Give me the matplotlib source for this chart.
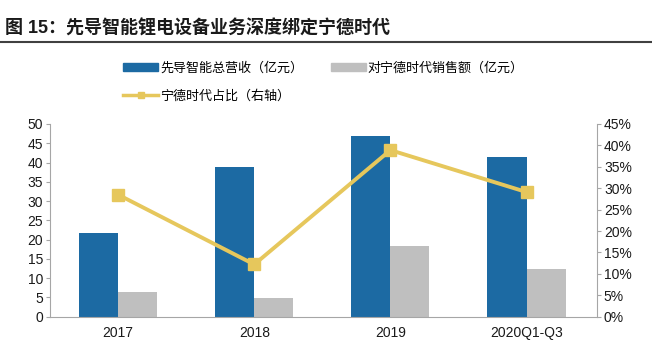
import numpy as np
import matplotlib
matplotlib.use('Agg')
import matplotlib.pyplot as plt
from matplotlib.lines import Line2D
from matplotlib.patches import Patch

plt.rcParams['font.family'] = ['Liberation Sans', 'Noto Sans CJK SC', 'DejaVu Sans']

# 数据
categories = ['2017', '2018', '2019', '2020Q1-Q3']
revenue = [21.8, 38.9, 47.0, 41.5]        # 先导智能总营收（亿元）
catl_sales = [6.4, 4.9, 18.4, 12.3]       # 对宁德时代销售额（亿元）
catl_share = [28.5, 12.2, 38.9, 29.1]     # 宁德时代占比（%）

blue = '#1c6aa3'
gray = '#bfbfbf'
yellow = '#e6c75c'
axis_col = '#a6a6a6'

fig = plt.figure(figsize=(6.52, 3.57), dpi=100)

# 标题
fig.text(0.008, 0.921, '图 15：先导智能锂电设备业务深度绑定宁德时代',
         fontsize=13, fontweight='bold', color='#1a1a1a', va='center', ha='left')
fig.add_artist(Line2D([0, 1], [0.881, 0.881], color='#404040', lw=1.5,
                      transform=fig.transFigure))

ax = fig.add_axes([0.0767, 0.1129, 0.8389, 0.5398])
x = np.arange(len(categories))
w = 0.287
ax.bar(x - w / 2, revenue, width=w, color=blue, zorder=2)
ax.bar(x + w / 2, catl_sales, width=w, color=gray, zorder=2)
ax.set_xlim(-0.5, 3.517)
ax.set_ylim(0, 50)
ax.set_yticks(np.arange(0, 51, 5))
ax.set_xticks(x)
ax.set_xticklabels(categories)
ax.tick_params(axis='x', length=0, pad=7, labelsize=10, colors='#1a1a1a')
ax.tick_params(axis='y', length=3, color=axis_col, labelsize=10, labelcolor='#1a1a1a', pad=2)
for s in ['top', 'right']:
    ax.spines[s].set_visible(False)
for s in ['left', 'bottom']:
    ax.spines[s].set_color(axis_col)

ax2 = ax.twinx()
ax2.plot(x, catl_share, color=yellow, lw=2.8, marker='s', markersize=9,
         markeredgecolor=yellow, zorder=3)
ax2.set_ylim(0, 45)
ax2.set_yticks(np.arange(0, 46, 5))
ax2.set_yticklabels([f'{v}%' for v in range(0, 46, 5)])
ax2.tick_params(axis='y', length=3, color=axis_col, labelsize=10, labelcolor='#1a1a1a', pad=2)
for s in ['top', 'left', 'bottom']:
    ax2.spines[s].set_visible(False)
ax2.spines['right'].set_color(axis_col)

# 图例
h1 = Patch(color=blue)
h2 = Patch(color=gray)
h3 = Line2D([], [], color=yellow, lw=2.5, marker='s', markersize=5)
fig.legend([h1, h2], ['先导智能总营收（亿元）', '对宁德时代销售额（亿元）'],
           loc='center left', bbox_to_anchor=(0.1887, 0.8095), ncol=2, frameon=False,
           fontsize=9.4, handlelength=2.7, handleheight=0.55, handletextpad=0.15,
           columnspacing=2.1, borderaxespad=0, borderpad=0)
fig.legend([h3], ['宁德时代占比（右轴）'],
           loc='center left', bbox_to_anchor=(0.1887, 0.729), frameon=False,
           fontsize=9.4, handlelength=2.7, handletextpad=0.15,
           borderaxespad=0, borderpad=0)

fig.savefig('out.png', dpi=100)
